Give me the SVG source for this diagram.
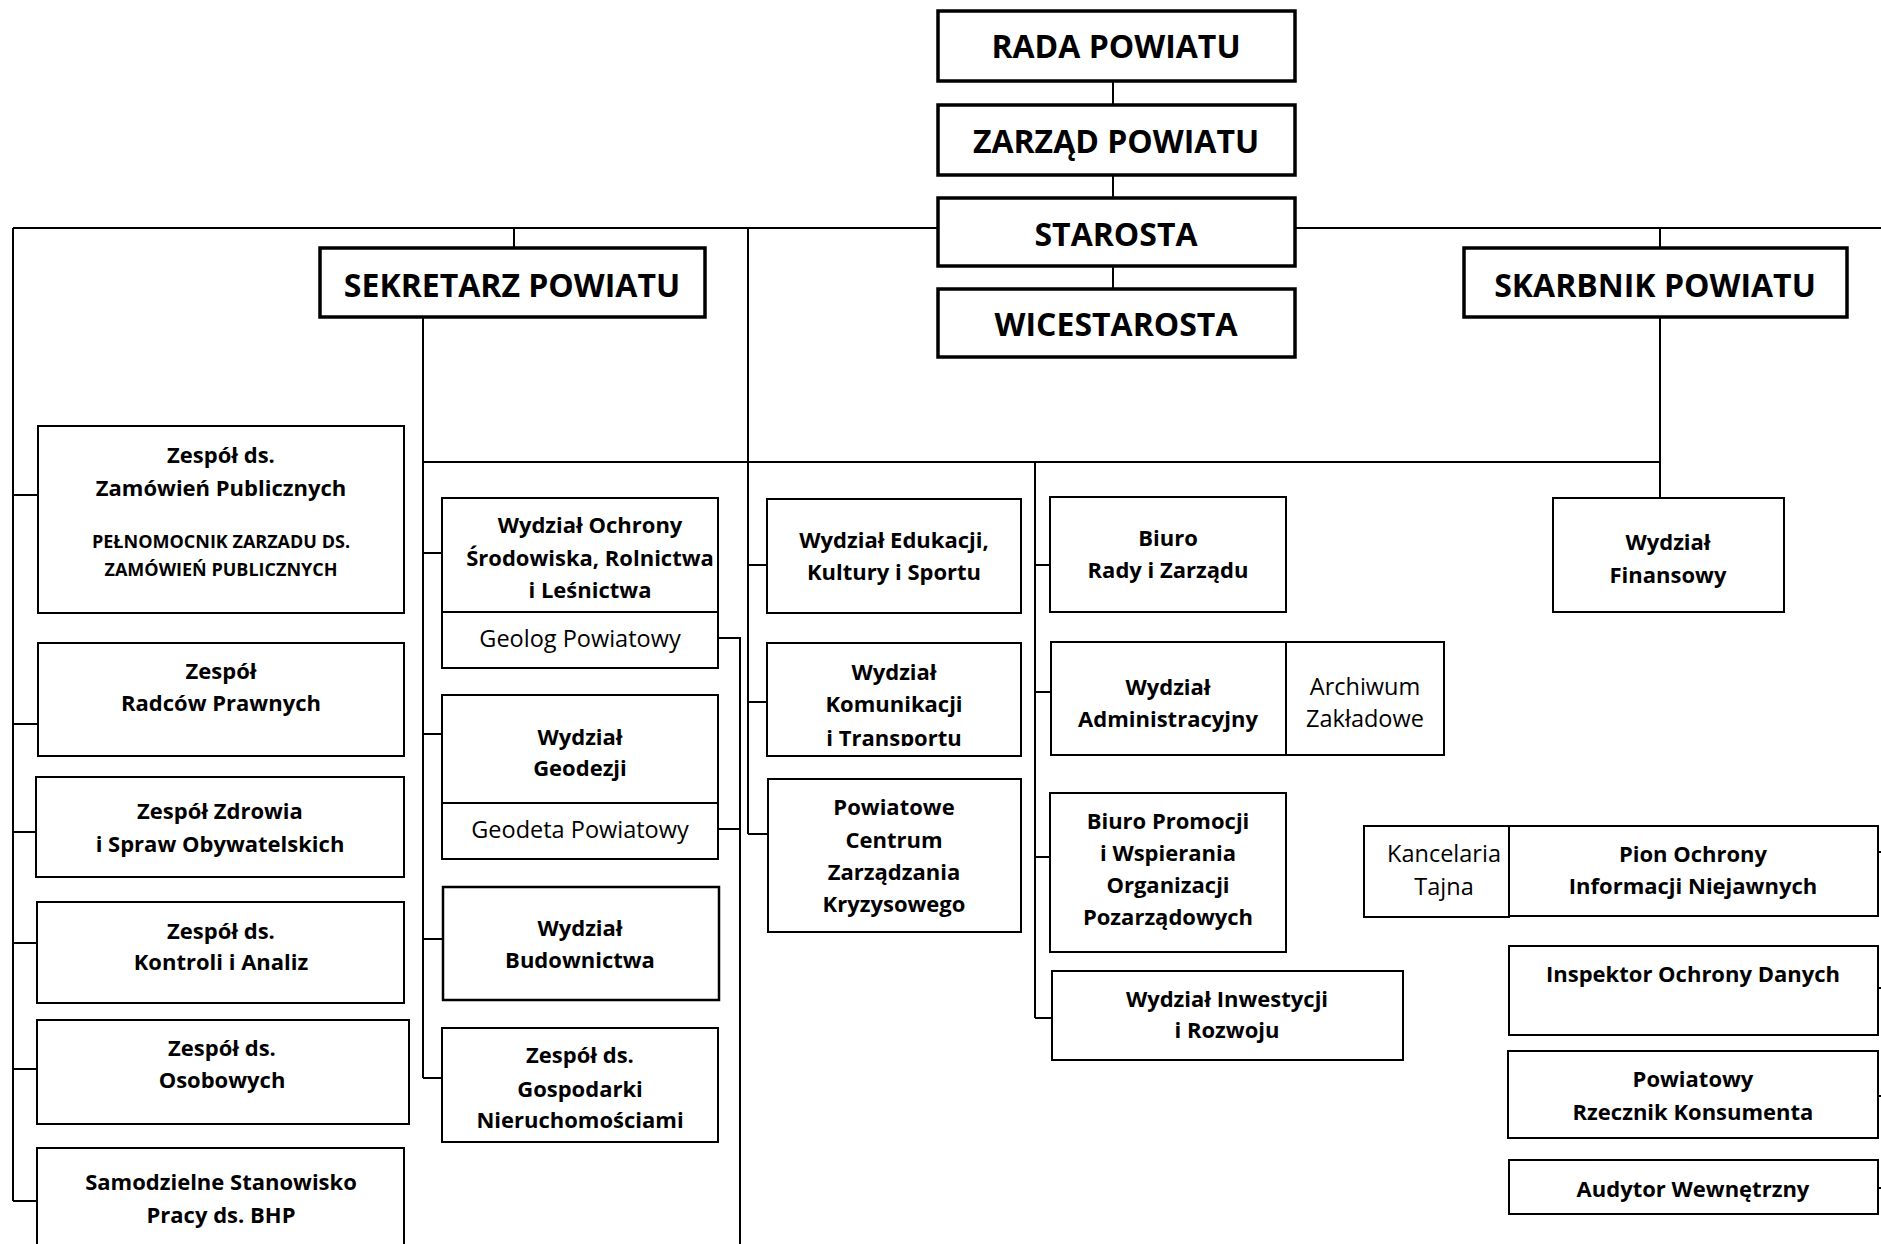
<svg xmlns="http://www.w3.org/2000/svg" width="1881" height="1244" viewBox="0 0 1881 1244">
<defs>
<style>
.bx{fill:#fff;stroke:#000;stroke-width:2}
.tk{fill:#fff;stroke:#000;stroke-width:3.5}
.ln{fill:none;stroke:#000;stroke-width:2}
text{font-family:'Open Sans','Noto Sans','Liberation Sans',sans-serif;font-weight:bold;font-size:22px;text-anchor:middle;fill:#000}
.h{font-size:32px}
.r{font-weight:normal;font-size:23.5px}
.s{font-size:18px}
</style>
<clipPath id="clipKom"><rect x="767" y="643" width="254" height="103"/></clipPath>
</defs>
<rect width="1881" height="1244" fill="#fff"/>
<g id="connectors">
<path class="ln" d="M1113 81V105M1113 175V198M1113 266V289"/>
<path class="ln" d="M13 228H938M1295 228H1881"/>
<path class="ln" d="M514 228V248M1660 228V248M748 228V834"/>
<path class="ln" d="M13 228V1201M13 495H38M13 724H38M13 832H36M13 943H37M13 1069H37M13 1201H37"/>
<path class="ln" d="M423 317V1078M423 553H442M423 734H442M423 939H443M423 1078H442"/>
<path class="ln" d="M718 638H740V1244M718 829H740"/>
<path class="ln" d="M423 462H1660M1660 317V498"/>
<path class="ln" d="M748 565H767M748 702H767M748 834H768"/>
<path class="ln" d="M1035 462V1018M1035 565H1050M1035 692H1051M1035 857H1050M1035 1018H1052"/>
<path class="ln" d="M1878 852H1881M1878 988H1881M1878 1096H1881M1878 1188H1881"/>
</g>
<g id="rada"><rect class="tk" x="938" y="11" width="357" height="70"/><text class="h" x="1116" y="58">RADA POWIATU</text></g>
<g id="zarzad"><rect class="tk" x="938" y="105" width="357" height="70"/><text class="h" x="1116" y="153">ZARZĄD POWIATU</text></g>
<g id="starosta"><rect class="tk" x="938" y="198" width="357" height="68"/><text class="h" x="1116" y="246">STAROSTA</text></g>
<g id="wicestarosta"><rect class="tk" x="938" y="289" width="357" height="68"/><text class="h" x="1116" y="336">WICESTAROSTA</text></g>
<g id="sekretarz"><rect class="tk" x="320" y="248" width="385" height="69"/><text class="h" x="512" y="297">SEKRETARZ POWIATU</text></g>
<g id="skarbnik"><rect class="tk" x="1464" y="248" width="383" height="69"/><text class="h" x="1655" y="297">SKARBNIK POWIATU</text></g>
<g id="zamowienia"><rect class="bx" x="38" y="426" width="366" height="187"/><text x="221" y="463">Zespół ds.</text><text x="221" y="496">Zamówień Publicznych</text><text class="s" x="221" y="548">PEŁNOMOCNIK ZARZADU DS.</text><text class="s" x="221" y="576">ZAMÓWIEŃ PUBLICZNYCH</text></g>
<g id="radcy"><rect class="bx" x="38" y="643" width="366" height="113"/><text x="221" y="679">Zespół</text><text x="221" y="711">Radców Prawnych</text></g>
<g id="zdrowie"><rect class="bx" x="36" y="777" width="368" height="100"/><text x="220" y="819">Zespół Zdrowia</text><text x="220" y="852">i Spraw Obywatelskich</text></g>
<g id="kontrola"><rect class="bx" x="37" y="902" width="367" height="101"/><text x="221" y="939">Zespół ds.</text><text x="221" y="970">Kontroli i Analiz</text></g>
<g id="osobowe"><rect class="bx" x="37" y="1020" width="372" height="104"/><text x="222" y="1056">Zespół ds.</text><text x="222" y="1088">Osobowych</text></g>
<g id="bhp"><rect class="bx" x="37" y="1148" width="367" height="110"/><text x="221" y="1190">Samodzielne Stanowisko</text><text x="221" y="1223">Pracy ds. BHP</text></g>
<g id="ochrona"><rect class="bx" x="442" y="498" width="276" height="170"/><path class="ln" d="M442 612H718"/><text x="590" y="533">Wydział Ochrony</text><text x="590" y="566">Środowiska, Rolnictwa</text><text x="590" y="598">i Leśnictwa</text><text class="r" x="580" y="647">Geolog Powiatowy</text></g>
<g id="geodezja"><rect class="bx" x="442" y="695" width="276" height="164"/><path class="ln" d="M442 803H718"/><text x="580" y="745">Wydział</text><text x="580" y="776">Geodezji</text><text class="r" x="580" y="838">Geodeta Powiatowy</text></g>
<g id="budownictwo"><rect class="bx" x="443" y="887" width="276" height="113" style="stroke-width:2.5"/><text x="580" y="936">Wydział</text><text x="580" y="968">Budownictwa</text></g>
<g id="nieruchomosci"><rect class="bx" x="442" y="1028" width="276" height="114"/><text x="580" y="1063">Zespół ds.</text><text x="580" y="1097">Gospodarki</text><text x="580" y="1128">Nieruchomościami</text></g>
<g id="edukacja"><rect class="bx" x="767" y="499" width="254" height="114"/><text x="894" y="548">Wydział Edukacji,</text><text x="894" y="580">Kultury i Sportu</text></g>
<g id="komunikacja"><rect class="bx" x="767" y="643" width="254" height="113"/><text x="894" y="680">Wydział</text><text x="894" y="712">Komunikacji</text><text x="894" y="746" clip-path="url(#clipKom)">i Transportu</text></g>
<g id="pczk"><rect class="bx" x="768" y="779" width="253" height="153"/><text x="894" y="815">Powiatowe</text><text x="894" y="848">Centrum</text><text x="894" y="880">Zarządzania</text><text x="894" y="912">Kryzysowego</text></g>
<g id="biuro-rady"><rect class="bx" x="1050" y="497" width="236" height="115"/><text x="1168" y="546">Biuro</text><text x="1168" y="578">Rady i Zarządu</text></g>
<g id="administracja"><rect class="bx" x="1051" y="642" width="235" height="113"/><text x="1168" y="695">Wydział</text><text x="1168" y="727">Administracyjny</text></g>
<g id="archiwum"><rect class="bx" x="1286" y="642" width="158" height="113"/><text class="r" x="1365" y="695">Archiwum</text><text class="r" x="1365" y="727">Zakładowe</text></g>
<g id="promocja"><rect class="bx" x="1050" y="793" width="236" height="159"/><text x="1168" y="829">Biuro Promocji</text><text x="1168" y="861">i Wspierania</text><text x="1168" y="893">Organizacji</text><text x="1168" y="925">Pozarządowych</text></g>
<g id="inwestycje"><rect class="bx" x="1052" y="971" width="351" height="89"/><text x="1227" y="1007">Wydział Inwestycji</text><text x="1227" y="1038">i Rozwoju</text></g>
<g id="finanse"><rect class="bx" x="1553" y="498" width="231" height="114"/><text x="1668" y="550">Wydział</text><text x="1668" y="583">Finansowy</text></g>
<g id="kancelaria"><rect class="bx" x="1364" y="826" width="145" height="91"/><text class="r" x="1444" y="862">Kancelaria</text><text class="r" x="1444" y="895">Tajna</text></g>
<g id="pion"><rect class="bx" x="1509" y="826" width="369" height="90"/><text x="1693" y="862">Pion Ochrony</text><text x="1693" y="894">Informacji Niejawnych</text></g>
<g id="iod"><rect class="bx" x="1509" y="946" width="369" height="89"/><text x="1693" y="982">Inspektor Ochrony Danych</text></g>
<g id="rzecznik"><rect class="bx" x="1508" y="1051" width="370" height="87"/><text x="1693" y="1087">Powiatowy</text><text x="1693" y="1120">Rzecznik Konsumenta</text></g>
<g id="audytor"><rect class="bx" x="1509" y="1160" width="369" height="54"/><text x="1693" y="1197">Audytor Wewnętrzny</text></g>
</svg>
